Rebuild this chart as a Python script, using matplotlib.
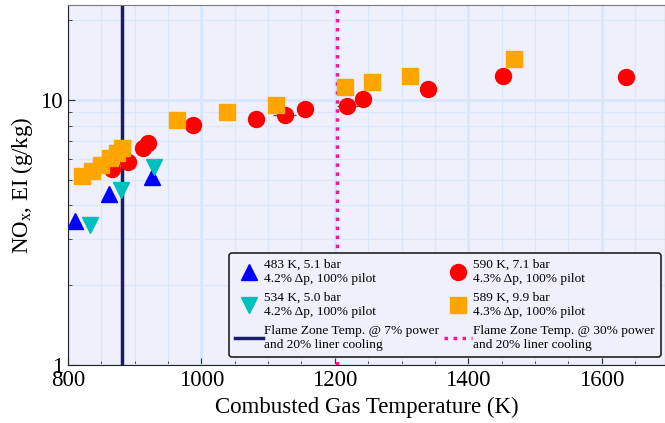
import numpy as np
import matplotlib
matplotlib.use('Agg')
import matplotlib.pyplot as plt
from matplotlib.ticker import MultipleLocator, LogLocator, NullFormatter, FixedLocator, FixedFormatter

plt.rcParams['font.family'] = ['Liberation Serif', 'DejaVu Serif']
plt.rcParams['mathtext.fontset'] = 'custom'
plt.rcParams['mathtext.rm'] = 'Liberation Serif'
plt.rcParams['mathtext.it'] = 'Liberation Serif:italic'

# 483 K, 5.1 bar
t_483 = [810, 861, 926]
ei_483 = [3.5, 4.42, 5.12]
# 534 K, 5.0 bar
t_534 = [833, 879, 929]
ei_534 = [3.38, 4.57, 5.58]
# 590 K, 7.1 bar
t_590 = [866, 890, 913, 920, 987, 1082, 1125, 1155, 1219, 1242, 1339, 1452, 1636]
ei_590 = [5.49, 5.83, 6.6, 6.85, 8.07, 8.45, 8.77, 9.24, 9.52, 10.1, 11.0, 12.3, 12.2]
xerr_590 = [0, 0, 0, 0, 0, 0, 17, 0, 16, 0, 0, 0, 0]
# 589 K, 9.9 bar
t_589 = [821, 836, 849, 863, 873, 881, 963, 1038, 1112, 1216, 1255, 1312, 1468]
ei_589 = [5.17, 5.39, 5.69, 6.05, 6.32, 6.59, 8.42, 9.0, 9.58, 11.2, 11.7, 12.3, 14.3]

t_flame_7 = 881
t_flame_30 = 1203

fig = plt.figure(figsize=(6.65, 4.23), dpi=100)
ax = fig.add_axes([68/665, 1-365/423, 1-68/665, 360/423])
ax.set_facecolor('#eff0fc')

ax.set_yscale('log')
ax.set_xlim(800, 1695)
ax.set_ylim(1, 22.8)

ax.xaxis.set_major_locator(MultipleLocator(200))
ax.xaxis.set_minor_locator(MultipleLocator(50))
ax.yaxis.set_major_locator(FixedLocator([1, 10]))
ax.yaxis.set_major_formatter(FixedFormatter(['1', '10']))
ax.yaxis.set_minor_locator(LogLocator(base=10, subs=np.arange(2, 10)))
ax.yaxis.set_minor_formatter(NullFormatter())

ax.grid(True, which='major', color='#d8e7fb', lw=2.2, zorder=0)
ax.grid(True, which='minor', color='#dbe8fb', lw=0.9, zorder=0)
ax.set_axisbelow(True)

ax.tick_params(which='both', direction='in', top=False, right=False, labelsize=16.5, color='#333333')
ax.tick_params(which='major', length=5)
ax.tick_params(which='minor', length=3)
for s in ['left', 'bottom']:
    ax.spines[s].set_color('#222222')
for s in ['top', 'right']:
    ax.spines[s].set_color('#777777')

ms = 11.5
h_line7 = ax.axvline(t_flame_7, color='#1c1c6b', lw=2.5, zorder=2,
                     label='Flame Zone Temp. @ 7% power\nand 20% liner cooling')
h_line30 = ax.axvline(t_flame_30, color='#ff1493', lw=2.5, ls=(0, (1, 1.6)), zorder=2,
                      label='Flame Zone Temp. @ 30% power\nand 20% liner cooling')

ax.errorbar(t_590, ei_590, xerr=xerr_590, fmt='none', ecolor='#555555', elinewidth=1, zorder=3)
h483, = ax.plot(t_483, ei_483, '^', color='#0000ff', ms=ms, ls='none', zorder=4,
                label='483 K, 5.1 bar\n4.2% Δp, 100% pilot')
h534, = ax.plot(t_534, ei_534, 'v', color='#00bfbf', ms=ms, ls='none', zorder=4,
                label='534 K, 5.0 bar\n4.2% Δp, 100% pilot')
h590, = ax.plot(t_590, ei_590, 'o', color='#ff0000', ms=ms, ls='none', zorder=4,
                label='590 K, 7.1 bar\n4.3% Δp, 100% pilot')
h589, = ax.plot(t_589, ei_589, 's', color='#ffa500', ms=ms, ls='none', zorder=4,
                label='589 K, 9.9 bar\n4.3% Δp, 100% pilot')

leg = ax.legend(handles=[h483, h534, h_line7, h590, h589, h_line30], ncol=2,
                loc='lower right', bbox_to_anchor=(0.997, 0.015), fontsize=9.6,
                frameon=True, fancybox=True, facecolor='#eff0fc', edgecolor='#222222',
                framealpha=1, handlelength=2.1, handletextpad=0.05, columnspacing=0.4,
                labelspacing=0.55, borderpad=0.45, borderaxespad=0.2)
leg.get_frame().set_linewidth(1.2)

ax.set_xlabel('Combusted Gas Temperature (K)', fontsize=16.5)
ax.set_ylabel('NO$_\\mathrm{x}$, EI (g/kg)', fontsize=16.5)

fig.savefig('out.png', dpi=100)
